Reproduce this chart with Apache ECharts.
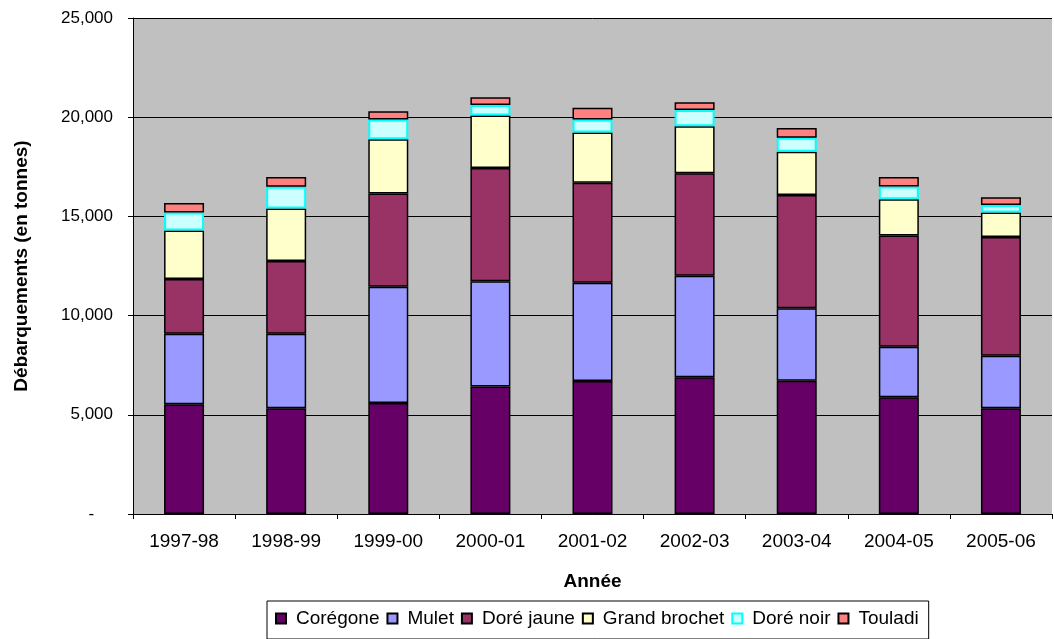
<!DOCTYPE html>
<html>
<head>
<meta charset="utf-8">
<script src="https://cdn.jsdelivr.net/npm/echarts@6/dist/echarts.min.js"></script>
<style>
html,body{margin:0;padding:0;background:#fff;}
#chart{width:1054px;height:639px;}
</style>
</head>
<body>
<div id="chart"></div>
<script>
const categories = ['1997-98','1998-99','1999-00','2000-01','2001-02','2002-03','2003-04','2004-05','2005-06'];
const coregone    = [5530, 5330, 5590, 6430, 6700, 6890, 6720, 5880, 5330];
const mulet       = [3560, 3760, 5860, 5300, 4950, 5120, 3650, 2550, 2650];
const doreJaune   = [2750, 3660, 4700, 5710, 5040, 5160, 5710, 5610, 5980];
const grandBrochet= [2450, 2650, 2740, 2640, 2540, 2380, 2180, 1830, 1240];
const doreNoir    = [910, 1090, 990, 530, 650, 810, 700, 640, 370];
const touladi     = [480, 500, 420, 400, 600, 390, 500, 480, 400];
const yTicks = [0, 5000, 10000, 15000, 20000, 25000];

const FONT = '"Liberation Sans", Arial, sans-serif';

function ser(name, data, color, border, bw) {
  return {
    name: name, type: 'bar', stack: 'total', data: data, barWidth: 40,
    itemStyle: { color: color, borderColor: border, borderWidth: bw },
    emphasis: { disabled: true }
  };
}

const chart = echarts.init(document.getElementById('chart'), null, {renderer: 'canvas'});
chart.setOption({
  animation: false,
  backgroundColor: '#ffffff',
  textStyle: { fontFamily: FONT, color: '#000' },
  grid: {
    left: 133, right: 2, top: 18, bottom: 125,
    show: true, backgroundColor: '#C0C0C0', borderWidth: 0
  },
  legend: {
    bottom: 0, left: 267,
    width: 740,
    padding: [8, 10, 11, 8],
    borderColor: '#000', borderWidth: 1,
    itemWidth: 10, itemHeight: 10, itemGap: 7,
    icon: 'rect',
    textStyle: { fontFamily: FONT, fontSize: 19, color: '#000', padding: [0, 0, 0, 5] },
    data: ['Corégone','Mulet','Doré jaune','Grand brochet','Doré noir','Touladi']
  },
  xAxis: {
    type: 'category',
    data: categories,
    name: 'Année',
    nameLocation: 'middle',
    nameGap: 58,
    nameTextStyle: { fontFamily: FONT, fontWeight: 'bold', fontSize: 19, color: '#000' },
    axisLine: { lineStyle: { color: '#000', width: 1 } },
    axisTick: { show: true, length: 5, lineStyle: { color: '#000' } },
    axisLabel: { fontFamily: FONT, fontSize: 19, color: '#000', margin: 18 },
    splitLine: { show: false }
  },
  yAxis: {
    type: 'value',
    min: yTicks[0], max: yTicks[yTicks.length - 1], interval: 5000,
    name: 'Débarquements (en tonnes)',
    nameLocation: 'middle',
    nameGap: 102,
    nameTextStyle: { fontFamily: FONT, fontWeight: 'bold', fontSize: 19, color: '#000' },
    axisLine: { show: true, lineStyle: { color: '#000', width: 1 } },
    axisTick: { show: true, length: 5, inside: false, lineStyle: { color: '#000' } },
    axisLabel: {
      fontFamily: FONT, fontSize: 17, color: '#000', margin: 20,
      formatter: function (v) { return v === 0 ? '-    ' : v.toLocaleString('en-US'); }
    },
    splitLine: { show: true, lineStyle: { color: '#000', width: 1 } }
  },
  series: [
    ser('Corégone', coregone, '#660066', '#000', 1.5),
    ser('Mulet', mulet, '#9999FF', '#000', 1.5),
    ser('Doré jaune', doreJaune, '#993366', '#000', 1.5),
    ser('Grand brochet', grandBrochet, '#FFFFCC', '#000', 1.5),
    ser('Doré noir', doreNoir, '#CCFFFF', '#00FFFF', 2),
    ser('Touladi', touladi, '#FF8080', '#000', 1.5)
  ]
});
</script>
</body>
</html>
